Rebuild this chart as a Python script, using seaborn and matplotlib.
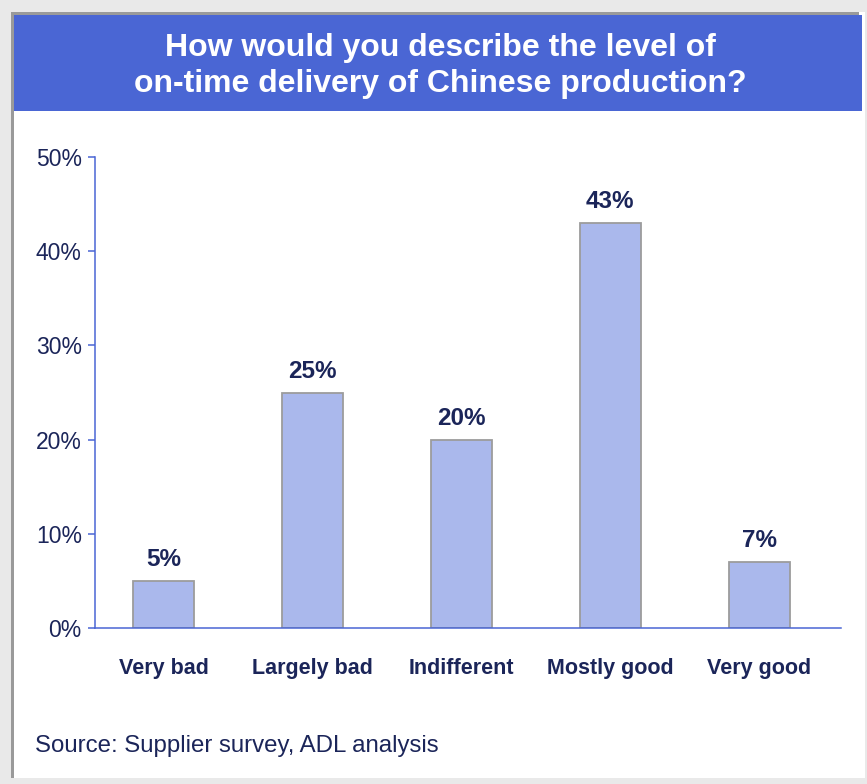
import matplotlib
matplotlib.use("Agg")
import matplotlib.pyplot as plt
from matplotlib.patches import Rectangle
from matplotlib.ticker import FuncFormatter
import seaborn as sns
import pandas as pd

categories = ["Very bad", "Largely bad", "Indifferent", "Mostly good", "Very good"]
shares = [5, 25, 20, 43, 7]
y_ticks = [0, 10, 20, 30, 40, 50]

title = "How would you describe the level of\non-time delivery of Chinese production?"
source = "Source: Supplier survey, ADL analysis"

NAVY = "#1b2559"
BLUE = "#4a66d4"
BAR = "#aab8ec"
BAR_EDGE = "#9c9c9c"

sns.set_theme(style="white")
plt.rcParams["font.family"] = ["Liberation Sans", "DejaVu Sans"]

W, H = 867, 784
fig = plt.figure(figsize=(W / 100, H / 100), dpi=100, facecolor="#e9e9e9")


def px_rect(x0, y0, x1, y1, color, z):
    """Rectangle given in top-left pixel coordinates."""
    fig.patches.append(Rectangle((x0 / W, 1 - y1 / H), (x1 - x0) / W, (y1 - y0) / H,
                                 transform=fig.transFigure, facecolor=color,
                                 edgecolor="none", zorder=z))


# panel, its shaded border and the title banner (behind the axes)
px_rect(11, 12, 865, 778, "white", -4)
px_rect(11, 12, 14, 778, "#9a9a9a", -3)
px_rect(11, 12, 859, 15, "#9a9a9a", -3)
px_rect(14, 15, 862, 111, BLUE, -2)

fig.text(440 / W, 1 - 66 / H, title, ha="center", va="center", color="white",
         fontsize=23, fontweight="bold", linespacing=1.22)
fig.text(35 / W, 1 - 746 / H, source, ha="left", va="center", color=NAVY, fontsize=17.3)

ax = fig.add_axes([95 / W, 1 - 628 / H, (841 - 95) / W, (628 - 157) / H])
ax.set_facecolor("none")

df = pd.DataFrame({"category": categories, "share": shares})
sns.barplot(data=df, x="category", y="share", ax=ax, color=BAR, saturation=1,
            width=0.41, edgecolor=BAR_EDGE, linewidth=1.3)

ax.set_xlim(-0.46, 4.55)
ax.set_ylim(0, 50)
ax.set_yticks(y_ticks)
ax.yaxis.set_major_formatter(FuncFormatter(lambda v, _: f"{v:.0f}%"))
ax.set_xlabel("")
ax.set_ylabel("")

for side in ("top", "right"):
    ax.spines[side].set_visible(False)
for side in ("left", "bottom"):
    ax.spines[side].set_color(BLUE)
    ax.spines[side].set_linewidth(1.1)

ax.tick_params(axis="y", which="both", left=True, length=5, width=1.1, color=BLUE,
               pad=4.5, labelsize=16.5, labelcolor=NAVY, direction="out")
ax.tick_params(axis="x", length=0, pad=21.5, labelsize=15.5, labelcolor=NAVY)
for lbl in ax.get_xticklabels():
    lbl.set_fontweight("bold")

for i, v in enumerate(shares):
    ax.annotate(f"{v}%", (i, v), xytext=(0, 7), textcoords="offset points",
                ha="center", va="bottom", fontsize=17.5, fontweight="bold", color=NAVY)

fig.savefig("out.png", dpi=100, facecolor=fig.get_facecolor())
